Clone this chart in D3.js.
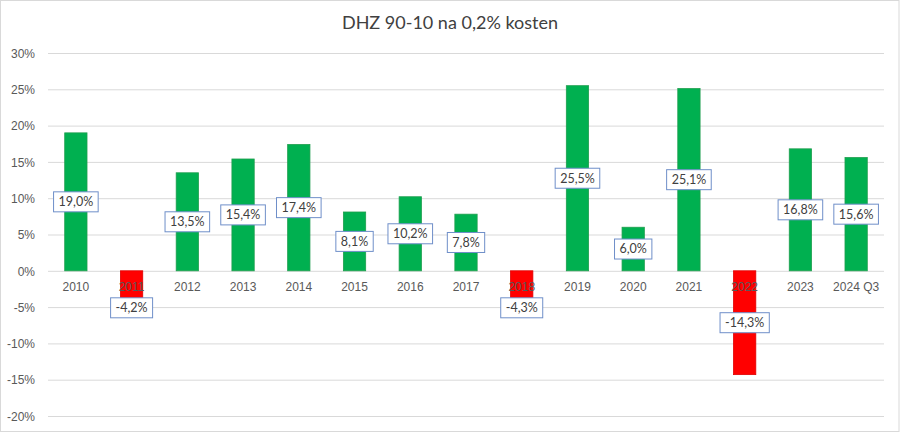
<!DOCTYPE html>
<html><head><meta charset="utf-8">
<script src="https://cdn.jsdelivr.net/npm/d3@7"></script>
<style>body{margin:0;background:#fff;}svg{display:block;font-family:Lato,"Open Sans",sans-serif;}</style>
</head><body>
<script>
const title = "DHZ 90-10 na 0,2% kosten";
const categories = ["2010","2011","2012","2013","2014","2015","2016","2017","2018","2019","2020","2021","2022","2023","2024 Q3"];
const values = [19.0,-4.2,13.5,15.4,17.4,8.1,10.2,7.8,-4.3,25.5,6.0,25.1,-14.3,16.8,15.6];
const yTicks = [-20,-15,-10,-5,0,5,10,15,20,25,30];

const W=900,H=433;
const svg=d3.select("body").append("svg").attr("width",W).attr("height",H);
svg.append("rect").attr("x",0.5).attr("y",0.5).attr("width",W-1.5).attr("height",H-2).attr("fill","#fff").attr("stroke","#d9d9d9");

const x=d3.scaleBand().domain(categories).range([48,884]).paddingInner(0.6).paddingOuter(0.3);
const y=d3.scaleLinear().domain([-20,30]).range([416,53]);

svg.append("text").attr("x",450).attr("y",29).attr("text-anchor","middle").attr("font-size",18).attr("fill","#404040").text(title);

const yAxis=d3.axisLeft(y).tickValues(yTicks).tickSize(-(884-48)).tickFormat(d=>d+"%");
const ga=svg.append("g").attr("transform","translate(48,0)").call(yAxis);
ga.select(".domain").remove();
ga.selectAll(".tick line").attr("stroke","#d9d9d9");
ga.selectAll(".tick text").attr("fill","#595959").attr("font-size",12).attr("x",-13).attr("dy","0.35em");

const fmt=v=>d3.format(".1f")(v).replace(".",",").replace("−","-")+"%";

svg.append("g").selectAll("rect").data(values).join("rect")
  .attr("x",(d,i)=>x(categories[i]))
  .attr("width",x.bandwidth())
  .attr("y",d=>y(Math.max(0,d)))
  .attr("height",d=>Math.abs(y(d)-y(0)))
  .attr("fill",d=>d>=0?"#00b050":"#ff0000")
  .attr("stroke",d=>d>=0?"#1e9e4e":"#e00000").attr("stroke-width",0.8);

const xAxis=d3.axisBottom(x).tickSize(0);
const gx=svg.append("g").attr("transform",`translate(0,${y(0)})`).call(xAxis);
gx.select(".domain").remove();
gx.selectAll(".tick text").attr("fill","#595959").attr("font-size",12).attr("dy","1.45em");

const lab=svg.append("g").selectAll("g").data(values).join("g")
  .attr("transform",(d,i)=>{
    let cy=y(d/2);
    if(d<0) cy=Math.max(cy,y(0)+37);
    return `translate(${x(categories[i])+x.bandwidth()/2},${cy})`;
  });
lab.append("text").attr("text-anchor","middle").attr("dy","0.35em").attr("font-size",12.5).attr("fill","#404040").text(fmt);
lab.each(function(){
  const g=d3.select(this);const b=g.select("text").node().getBBox();
  g.insert("rect","text").attr("x",b.x-5).attr("y",-10).attr("width",b.width+10).attr("height",20).attr("fill","#fff").attr("stroke","#6f8fc9").attr("stroke-width",1);
});
</script>
</body></html>
